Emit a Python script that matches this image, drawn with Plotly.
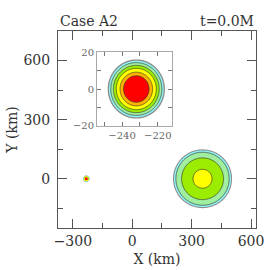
import numpy as np
import plotly.graph_objects as go

# ---- data ----
title_left = "Case A2"
title_right = "t=0.0M"
x_range = [-375, 625]
y_range = [-250, 750]
inset_x_range = [-254, -212]
inset_y_range = [-20, 20]

# vortex centres (km)
big_center = [355, 0]
small_center = [-232, 0]

# contour boundary radii (km) and field level at each radius
big_radii = [0, 48, 106, 135, 144, 149, 156]
big_levels = [5.6, 5, 4, 3, 2, 1, 0]
small_radii = [0, 7.2, 9.1, 11.2, 12.8, 14.3, 15.3, 16.0, 18.0]
small_levels = [8, 7, 6, 5, 4, 3, 2, 1, 0]

band_colors = ["#ffffff", "#8c8c8c", "#8ef6f6", "#a0eea0", "#9cec00",
               "#ffff00", "#ffb400", "#ff0000"]

x_ticks = [-300, 0, 300, 600]
y_ticks = [0, 300, 600]
inset_x_ticks = [-240, -220]
inset_y_ticks = [-20, 0, 20]


def vortex(X, Y, center, radii, levels):
    r = np.hypot(X - center[0], Y - center[1])
    return np.interp(r, radii, levels)


def field(X, Y):
    return np.maximum(vortex(X, Y, big_center, big_radii, big_levels),
                      vortex(X, Y, small_center, small_radii, small_levels))


xm = np.linspace(x_range[0], x_range[1], 501)
ym = np.linspace(y_range[0], y_range[1], 501)
XM, YM = np.meshgrid(xm, ym)
Zm = field(XM, YM)
Zm_lines = vortex(XM, YM, big_center, big_radii, big_levels)

xi = np.linspace(inset_x_range[0], inset_x_range[1], 211)
yi = np.linspace(inset_y_range[0], inset_y_range[1], 201)
Zi = field(*np.meshgrid(xi, yi))

n = len(band_colors) - 1
cscale = [[j / n, c] for j, c in enumerate(band_colors)]
fill_contours = dict(start=1, end=7, size=1, coloring="fill", showlines=False)
line_contours = dict(start=3, end=7, size=1, coloring="none")

fig = go.Figure()
for x, y, z, zl, xa, ya in [(xm, ym, Zm, Zm_lines, "x", "y"),
                            (xi, yi, Zi, Zi, "x2", "y2")]:
    fig.add_trace(go.Contour(x=x, y=y, z=z, xaxis=xa, yaxis=ya,
                             colorscale=cscale, contours=fill_contours,
                             line=dict(width=0), showscale=False,
                             hoverinfo="skip"))
    fig.add_trace(go.Contour(x=x, y=y, z=zl, xaxis=xa, yaxis=ya,
                             contours=line_contours,
                             line=dict(width=0.7, color="#333333"),
                             showscale=False, hoverinfo="skip"))

font_main = dict(family="DejaVu Serif", size=14, color="#333333")
font_inset = dict(family="DejaVu Serif", size=10, color="#666666")

fig.update_layout(
    width=270, height=270,
    margin=dict(l=58, r=14, t=31, b=42),
    paper_bgcolor="white", plot_bgcolor="white",
    showlegend=False,
    xaxis=dict(range=x_range, tickvals=x_ticks, ticks="inside", ticklen=9,
               tickcolor="#555555", showline=True, linecolor="#555555",
               mirror="allticks", showgrid=False, zeroline=False,
               tickfont=font_main, automargin=False,
               minor=dict(dtick=150, tick0=-300, ticklen=5, ticks="inside",
                          tickcolor="#555555", showgrid=False),
               title=dict(text="X (km)", font=font_main, standoff=6),
               domain=[0, 1]),
    yaxis=dict(range=y_range, tickvals=y_ticks, ticks="inside", ticklen=9,
               tickcolor="#555555", showline=True, linecolor="#555555",
               mirror="allticks", showgrid=False, zeroline=False,
               tickfont=font_main, ticklabelstandoff=4, automargin=False,
               minor=dict(dtick=150, tick0=-300, ticklen=5, ticks="inside",
                          tickcolor="#555555", showgrid=False),
               title=dict(text="Y (km)", font=font_main, standoff=2),
               domain=[0, 1]),
    xaxis2=dict(range=inset_x_range, tickvals=inset_x_ticks, ticks="inside",
                ticklen=4, tickcolor="#777777", showline=True,
                linecolor="#aaaaaa", mirror="allticks", showgrid=False,
                zeroline=False, tickfont=font_inset, anchor="y2",
                automargin=False,
                minor=dict(dtick=10, tick0=-240, ticklen=4, ticks="inside",
                           tickcolor="#777777", showgrid=False),
                domain=[0.197, 0.576]),
    yaxis2=dict(range=inset_y_range, tickvals=inset_y_ticks, ticks="inside",
                ticklen=4, tickcolor="#777777", showline=True,
                linecolor="#aaaaaa", mirror="allticks", showgrid=False,
                zeroline=False, tickfont=font_inset, anchor="x2",
                automargin=False,
                minor=dict(dtick=10, tick0=-20, ticklen=4, ticks="inside",
                           tickcolor="#777777", showgrid=False),
                domain=[0.518, 0.893]),
    annotations=[
        dict(text=title_left, x=0, y=1, xref="paper", yref="paper",
             xanchor="left", yanchor="bottom", showarrow=False,
             font=font_main, xshift=0, yshift=0),
        dict(text=title_right, x=1, y=1, xref="paper", yref="paper",
             xanchor="right", yanchor="bottom", showarrow=False,
             font=font_main, yshift=0),
    ],
)

fig.write_html("out.html",
               config={"displayModeBar": False},
               post_script="document.body.style.margin='0';"
                           "document.body.style.overflow='hidden';")
